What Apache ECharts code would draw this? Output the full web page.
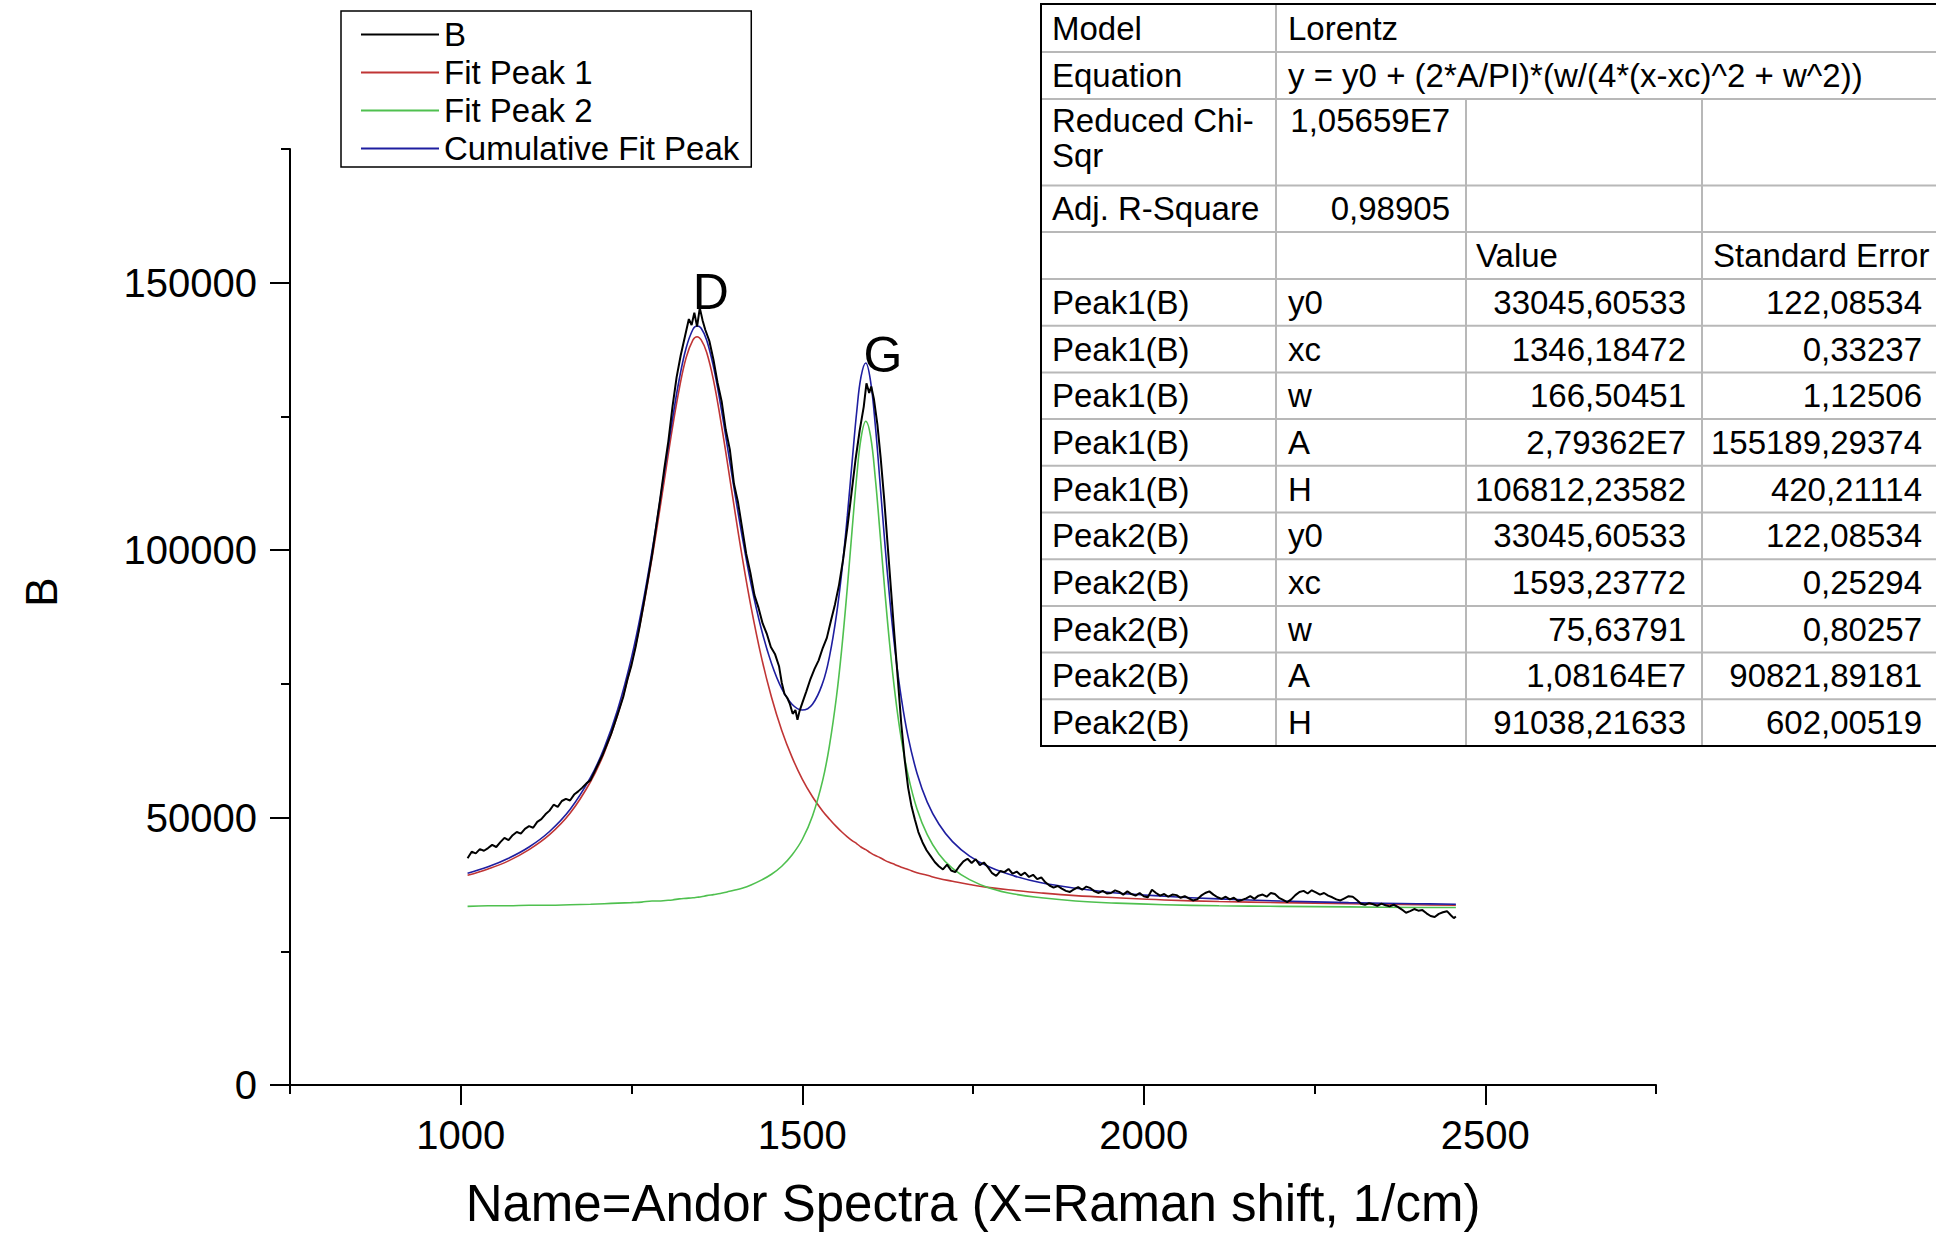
<!DOCTYPE html>
<html>
<head>
<meta charset="utf-8">
<title>Andor Spectra - Lorentz fit</title>
<script src="https://cdn.jsdelivr.net/npm/echarts@6.0.0/dist/echarts.min.js"></script>
<style>
    html, body { margin: 0; padding: 0; background: #fff; }
    #s-echarts-raman { width: 1936px; height: 1233px; }
</style>
</head>
<body>
<div id="s-echarts-raman"></div>
<script>
// measured spectrum B (Raman shift, counts)
var ramanShift = [
    1010, 1016, 1022, 1028, 1034, 1040, 1046, 1052, 1058, 1064, 1070, 1076, 1082, 1088, 1094,
    1100, 1106, 1112, 1118, 1124, 1130, 1136, 1142, 1148, 1154, 1160, 1166, 1172, 1178, 1184,
    1190, 1196, 1202, 1208, 1214, 1220, 1226, 1232, 1238, 1244,
    1250, 1256, 1262, 1268, 1274, 1280, 1286, 1292, 1298, 1304,
    1310, 1316, 1322, 1328, 1334, 1338, 1342, 1346, 1350, 1354,
    1358, 1364, 1370, 1376, 1382, 1388, 1394, 1400, 1406, 1412,
    1418, 1424, 1430, 1436, 1442, 1448, 1454, 1460, 1466, 1470,
    1474, 1478, 1482, 1486, 1490, 1493, 1496, 1500,
    1506, 1512, 1518, 1524, 1530, 1536, 1542, 1548, 1554, 1560,
    1566, 1572, 1578, 1584, 1590, 1594, 1598,
    1601, 1605, 1610, 1615, 1620, 1625, 1630, 1635, 1640, 1645,
    1650, 1655, 1660, 1665, 1670, 1676, 1682, 1688, 1694, 1700, 1706,
    1712, 1718, 1724, 1730, 1736, 1742, 1748, 1754, 1760, 1766, 1772, 1778, 1784, 1790,
    1796, 1802, 1808, 1814, 1820, 1826, 1832, 1838, 1844, 1850,
    1856, 1862, 1868, 1874, 1880, 1886, 1892, 1898, 1904, 1910,
    1916, 1922, 1928, 1934, 1940, 1946, 1952, 1958, 1964, 1970,
    1976, 1982, 1988, 1994, 2000, 2006, 2012, 2018, 2024, 2030,
    2036, 2042, 2048, 2054, 2060, 2066, 2072, 2078, 2084, 2090,
    2096, 2102, 2108, 2114, 2120, 2126, 2132, 2138, 2144, 2150,
    2156, 2162, 2168, 2174, 2180, 2186, 2192, 2198, 2204, 2210,
    2216, 2222, 2228, 2234, 2240, 2246, 2252, 2258, 2264, 2270,
    2276, 2282, 2288, 2294, 2300, 2306, 2312, 2318, 2324, 2330,
    2336, 2342, 2348, 2354, 2360, 2366, 2372, 2378, 2384, 2390,
    2396, 2402, 2408, 2414, 2420, 2426, 2432, 2438, 2444, 2450,
    2454, 2457
];
var intensityB = [
    42400, 43600, 43300, 44100, 43800, 44300, 44900, 44500, 45400, 46200, 45800, 46700, 47300, 47000, 47900,
    48400, 48100, 49200, 49700, 50600, 51300, 52400, 52000, 53100, 53500, 53200, 54300, 54900, 55600, 56400,
    57000, 58600, 60200, 61800, 63700, 65600, 67900, 70200, 72600, 75800,
    78500, 81900, 85800, 90100, 94500, 99000, 104300, 109600, 115200, 120400,
    126800, 132300, 136400, 139800, 143200, 142100, 144400, 141800, 145300, 143000,
    141200, 139100, 135600, 131300, 127800, 122500, 118800, 112400, 108900, 104100,
    99300, 95800, 91600, 89200, 86300, 84400, 81900, 80600, 78300, 75200,
    73100, 72400, 71200, 69400, 70100, 68300, 69900, 71400,
    73600, 75900, 77800, 79400, 81700, 83600, 86800, 89900, 93600, 98400,
    104200, 110500, 116900, 122300, 126800, 131200, 129400,
    130600, 128200, 123500, 117000, 109500, 101000, 92500, 84000, 75800, 67500,
    60800, 55600, 52100, 49600, 47300, 45400, 43900, 42800, 41700, 40900, 40300,
    41200, 40100, 39800, 40900, 41800, 42300, 41500, 42200, 41100, 41600, 40700, 39600, 39100, 40000,
    39800, 40400, 39500, 39900, 39200, 39700, 38900, 39300, 38500, 38800,
    37900, 37300, 36900, 37200, 36700, 36300, 36100, 36600, 37000, 36500,
    37100, 36800, 36200, 35900, 36300, 35800, 35900, 36400, 36100, 35600,
    36200, 35700, 35400, 35900, 35300, 35100, 36500, 35900, 35400, 35700,
    35200, 35600, 35500, 35000, 35300, 34900, 34500, 34700, 35400, 35900,
    36200, 35600, 35100, 34800, 35200, 34700, 35000, 34400, 34600, 34900,
    35300, 34800, 35400, 35600, 35200, 35900, 35700, 35000, 34600, 34200,
    34700, 35500, 36100, 36300, 35800, 36400, 36000, 35600, 35900, 35400,
    35100, 34700, 34500, 34900, 35300, 35200, 34600, 33900, 33700, 34000,
    33800, 33500, 33900, 33600, 33400, 33700, 33300, 32800, 32200, 32500,
    32900, 32600, 32700, 32100, 31600, 31400, 32000, 32300, 32500, 31700,
    31200, 31500
];

// fitted curves
var fitShift = [
    1010, 1040, 1070, 1100, 1130, 1160, 1190, 1210, 1230, 1250, 1265, 1280, 1290, 1300, 1310,
    1320, 1330, 1340, 1346, 1352, 1360, 1370, 1380, 1390, 1400, 1412, 1425, 1440, 1455, 1470,
    1485, 1500, 1515, 1530, 1540, 1550, 1558, 1566, 1573, 1580, 1586, 1593, 1600, 1607, 1614,
    1621, 1628, 1636, 1645, 1655, 1668, 1683, 1700, 1720, 1745, 1775, 1810, 1850, 1900, 1960,
    2030, 2110, 2200, 2300, 2400, 2457
];
var fitPeak1 = [
    39200, 40400, 41900, 44000, 46800, 50800, 56700, 62100, 69300, 78800, 87800, 98500, 106400, 114700, 122900,
    130200, 136000, 139300, 139900, 139300, 137000, 131800, 124700, 116700, 108400, 98800, 89400, 80100, 72500, 66300,
    61300, 57200, 53900, 51200, 49700, 48300, 47300, 46400, 45700, 45100, 44500, 44000, 43400, 42900, 42500,
    42000, 41600, 41200, 40700, 40300, 39700, 39200, 38600, 38100, 37500, 36900, 36400, 35900, 35400, 35000,
    34600, 34300, 34100, 33900, 33700, 33600
];
var fitPeak2 = [
    33400, 33500, 33500, 33600, 33600, 33700, 33800, 33900, 34000, 34100, 34200, 34400, 34400, 34500, 34600,
    34800, 34900, 35000, 35100, 35200, 35400, 35600, 35800, 36100, 36400, 36800, 37400, 38300, 39400, 40900,
    43000, 45900, 50300, 57000, 63600, 72500, 81800, 93000, 103800, 114100, 120900, 124100, 121300, 113400, 103000,
    92200, 82400, 73000, 64700, 57900, 51600, 46800, 43200, 40500, 38400, 36800, 35700, 35000, 34400, 34000,
    33700, 33500, 33400, 33300, 33200, 33200
];
var fitCumulative = [
    39600, 40800, 42400, 44500, 47400, 51500, 57500, 63000, 70300, 79900, 89000, 99800, 107800, 116200, 124500,
    132000, 137800, 141300, 141900, 141500, 139300, 134300, 127500, 119700, 111700, 102600, 93700, 85300, 78800, 74100,
    71200, 70100, 71200, 75200, 80200, 87800, 96100, 106400, 116500, 126200, 132400, 135000, 131600, 123300, 112400,
    101200, 91000, 81100, 72400, 65100, 58300, 52900, 48800, 45500, 42800, 40700, 39100, 37800, 36800, 35900,
    35300, 34800, 34400, 34100, 33900, 33800
];

var xMajorTicks = [1000, 1500, 2000, 2500];
var yMajorTicks = [0, 50000, 100000, 150000];

var peakNames = ['D', 'G'];
var peakNameShift = [1366, 1618];
var peakNameValue = [148200, 136400];

// fit result table
var modelRows = [
    ['Model', 'Lorentz'],
    ['Equation', 'y = y0 + (2*A/PI)*(w/(4*(x-xc)^2 + w^2))']
];
var statRows = [
    ['Reduced Chi-\nSqr', '1,05659E7'],
    ['Adj. R-Square', '0,98905']
];
var paramHeader = ['', '', 'Value', 'Standard Error'];
var paramRows = [
    ['Peak1(B)', 'y0', '33045,60533', '122,08534'],
    ['Peak1(B)', 'xc', '1346,18472', '0,33237'],
    ['Peak1(B)', 'w', '166,50451', '1,12506'],
    ['Peak1(B)', 'A', '2,79362E7', '155189,29374'],
    ['Peak1(B)', 'H', '106812,23582', '420,21114'],
    ['Peak2(B)', 'y0', '33045,60533', '122,08534'],
    ['Peak2(B)', 'xc', '1593,23772', '0,25294'],
    ['Peak2(B)', 'w', '75,63791', '0,80257'],
    ['Peak2(B)', 'A', '1,08164E7', '90821,89181'],
    ['Peak2(B)', 'H', '91038,21633', '602,00519']
];

var fontFamily = '"Liberation Sans", Arial, sans-serif';

function pairs(xs, ys) {
    var out = [];
    for (var i = 0; i < xs.length && i < ys.length; i++) {
        out.push([xs[i], ys[i]]);
    }
    return out;
}

function plainNumber(v) {
    return String(v);
}

// 表格
function buildTable() {
    var colEdges = [1041, 1276, 1466, 1702, 1940];
    var rowHeights = [48, 47, 86.5, 46.5, 47];
    for (var k = 0; k < paramRows.length; k++) rowHeights.push(46.7);
    var rowEdges = [4];
    for (var r = 0; r < rowHeights.length; r++) rowEdges.push(rowEdges[r] + rowHeights[r]);
    var bottom = rowEdges[rowEdges.length - 1];
    var els = [];
    var font = '33px ' + fontFamily;

    function text(str, x, y, align, vAlign) {
        return {
            type: 'text', x: x, y: y, z: 102,
            style: {
                text: str, fill: '#000', font: font, lineHeight: 35,
                align: align, verticalAlign: vAlign || 'middle',
                textAlign: align, textVerticalAlign: vAlign || 'middle'
            }
        };
    }
    function line(x1, y1, x2, y2) {
        return {
            type: 'line', z: 101,
            shape: {x1: x1, y1: y1, x2: x2, y2: y2},
            style: {stroke: '#b8b8b8', lineWidth: 2}
        };
    }

    els.push({
        type: 'rect', z: 100,
        shape: {x: colEdges[0], y: rowEdges[0], width: colEdges[4] - colEdges[0], height: bottom - rowEdges[0]},
        style: {fill: '#fff', stroke: 'none'}
    });
    for (var i = 1; i < rowEdges.length - 1; i++) {
        els.push(line(colEdges[0], rowEdges[i], colEdges[4], rowEdges[i]));
    }
    els.push(line(colEdges[1], rowEdges[0], colEdges[1], bottom));
    els.push(line(colEdges[2], rowEdges[2], colEdges[2], bottom));
    els.push(line(colEdges[3], rowEdges[2], colEdges[3], bottom));
    els.push({
        type: 'rect', z: 103,
        shape: {x: colEdges[0], y: rowEdges[0], width: colEdges[4] - colEdges[0], height: bottom - rowEdges[0]},
        style: {fill: 'none', stroke: '#000', lineWidth: 2}
    });

    var padL = 11, padR = 16;
    // Model / Equation
    for (var m = 0; m < modelRows.length; m++) {
        var cy = (rowEdges[m] + rowEdges[m + 1]) / 2;
        els.push(text(modelRows[m][0], colEdges[0] + padL, cy, 'left'));
        els.push(text(modelRows[m][1], colEdges[1] + 12, cy, 'left'));
    }
    // Reduced Chi-Sqr (top aligned) / Adj. R-Square
    els.push(text(statRows[0][0], colEdges[0] + padL, rowEdges[2] + 4, 'left', 'top'));
    els.push(text(statRows[0][1], colEdges[2] - padR, rowEdges[2] + 4, 'right', 'top'));
    var cy3 = (rowEdges[3] + rowEdges[4]) / 2;
    els.push(text(statRows[1][0], colEdges[0] + padL, cy3, 'left'));
    els.push(text(statRows[1][1], colEdges[2] - padR, cy3, 'right'));
    // header
    var cy4 = (rowEdges[4] + rowEdges[5]) / 2;
    els.push(text(paramHeader[2], colEdges[2] + 10, cy4, 'left'));
    els.push(text(paramHeader[3], colEdges[3] + 11, cy4, 'left'));
    // parameters
    for (var p = 0; p < paramRows.length; p++) {
        var cy5 = (rowEdges[5 + p] + rowEdges[6 + p]) / 2;
        els.push(text(paramRows[p][0], colEdges[0] + padL, cy5, 'left'));
        els.push(text(paramRows[p][1], colEdges[1] + 12, cy5, 'left'));
        els.push(text(paramRows[p][2], colEdges[3] - padR, cy5, 'right'));
        els.push(text(paramRows[p][3], colEdges[4] - 18, cy5, 'right'));
    }
    return els;
}

var myChart = echarts.init(document.getElementById('s-echarts-raman'), null, {renderer: 'svg'});
var axisColor = '#000';
var option = {
    animation: false,
    backgroundColor: '#fff',
    textStyle: {fontFamily: fontFamily},
    grid: {
        left: 290,
        right: 280,
        top: 149,
        bottom: 148,
        outerBoundsMode: 'none'
    },
    legend: {
        orient: 'vertical',
        left: 341,
        top: 11,
        align: 'left',
        icon: 'rect',
        itemWidth: 78,
        itemHeight: 2,
        itemGap: 5,
        padding: [7, 12, 2, 20],
        borderColor: '#000',
        borderWidth: 1.5,
        backgroundColor: '#fff',
        data: ['B', 'Fit Peak 1', 'Fit Peak 2', 'Cumulative Fit Peak'],
        textStyle: {
            color: '#000',
            fontSize: 33,
            fontFamily: fontFamily
        }
    },
    xAxis: [
        {
            type: 'value',
            position: 'bottom',
            min: 750,
            max: 2750,
            interval: 250,
            axisLine: {show: true, onZero: false, lineStyle: {color: axisColor, width: 2}},
            axisTick: {show: true, length: 9, lineStyle: {color: axisColor, width: 2}},
            axisLabel: {show: false},
            splitLine: {show: false},
            name: 'Name=Andor Spectra (X=Raman shift, 1/cm)',
            nameLocation: 'middle',
            nameGap: 93,
            nameTextStyle: {color: '#000', fontSize: 51, fontFamily: fontFamily}
        },
        {
            type: 'value',
            position: 'bottom',
            min: 750,
            max: 2750,
            interval: 250,
            axisLine: {show: false, onZero: false},
            axisTick: {show: true, length: 20, customValues: xMajorTicks, lineStyle: {color: axisColor, width: 2}},
            axisLabel: {
                show: true,
                customValues: xMajorTicks,
                formatter: plainNumber,
                margin: 30,
                color: '#000',
                fontSize: 40,
                fontFamily: fontFamily
            },
            splitLine: {show: false}
        }
    ],
    yAxis: [
        {
            type: 'value',
            position: 'left',
            min: 0,
            max: 175000,
            interval: 25000,
            axisLine: {show: true, onZero: false, lineStyle: {color: axisColor, width: 2}},
            axisTick: {show: true, length: 9, lineStyle: {color: axisColor, width: 2}},
            axisLabel: {show: false},
            splitLine: {show: false},
            name: 'B',
            nameLocation: 'middle',
            nameRotate: 90,
            nameGap: 227,
            nameTextStyle: {color: '#000', fontSize: 44, fontFamily: fontFamily, padding: [0, 0, 0, 50]}
        },
        {
            type: 'value',
            position: 'left',
            min: 0,
            max: 175000,
            interval: 25000,
            axisLine: {show: false, onZero: false},
            axisTick: {show: true, length: 20, customValues: yMajorTicks, lineStyle: {color: axisColor, width: 2}},
            axisLabel: {
                show: true,
                customValues: yMajorTicks,
                formatter: plainNumber,
                margin: 33,
                color: '#000',
                fontSize: 40,
                fontFamily: fontFamily
            },
            splitLine: {show: false}
        }
    ],
    series: [
        {
            name: 'B',
            type: 'line',
            z: 4,
            symbol: 'none',
            showSymbol: false,
            lineStyle: {color: '#000', width: 2},
            itemStyle: {color: '#000'},
            data: pairs(ramanShift, intensityB),
            markPoint: {
                symbol: 'circle',
                symbolSize: 1,
                itemStyle: {color: 'rgba(0,0,0,0)'},
                label: {
                    show: true,
                    position: 'inside',
                    formatter: '{b}',
                    color: '#000',
                    fontSize: 50,
                    fontFamily: fontFamily
                },
                data: peakNames.map(function (n, i) {
                    return {name: n, coord: [peakNameShift[i], peakNameValue[i]]};
                })
            }
        },
        {
            name: 'Fit Peak 1',
            type: 'line',
            z: 3,
            symbol: 'none',
            showSymbol: false,
            smooth: 0.4,
            lineStyle: {color: '#c03535', width: 1.6},
            itemStyle: {color: '#c03535'},
            data: pairs(fitShift, fitPeak1)
        },
        {
            name: 'Fit Peak 2',
            type: 'line',
            z: 3,
            symbol: 'none',
            showSymbol: false,
            smooth: 0.4,
            lineStyle: {color: '#4fc04f', width: 1.6},
            itemStyle: {color: '#4fc04f'},
            data: pairs(fitShift, fitPeak2)
        },
        {
            name: 'Cumulative Fit Peak',
            type: 'line',
            z: 3,
            symbol: 'none',
            showSymbol: false,
            smooth: 0.4,
            lineStyle: {color: '#1e1ea0', width: 1.6},
            itemStyle: {color: '#1e1ea0'},
            data: pairs(fitShift, fitCumulative)
        }
    ],
    graphic: {
        elements: buildTable()
    }
};
myChart.setOption(option);
</script>
</body>
</html>
